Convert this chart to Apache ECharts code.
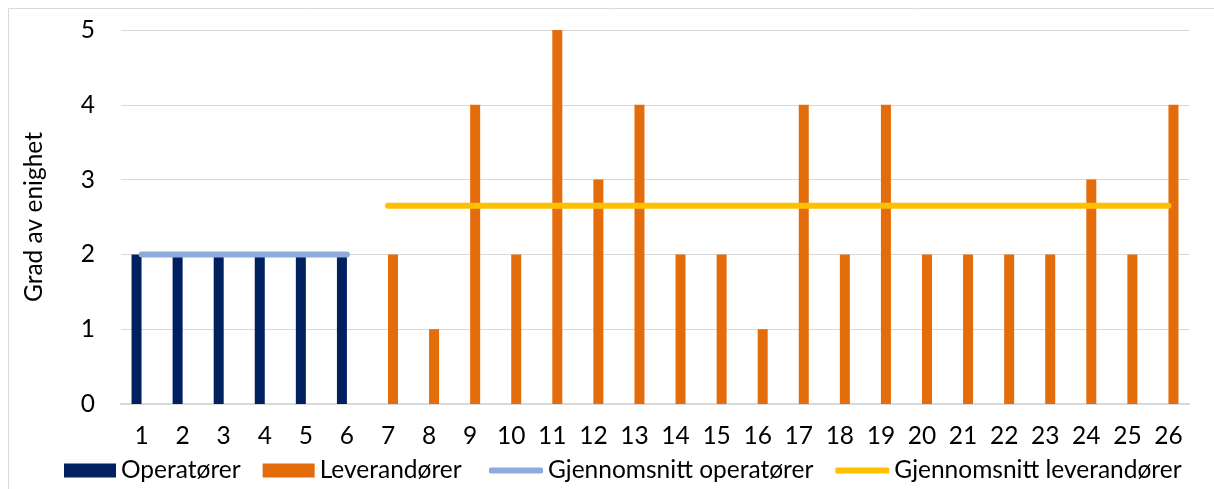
<!DOCTYPE html>
<html><head><meta charset="utf-8">
<script src="https://cdn.jsdelivr.net/npm/echarts@6/dist/echarts.min.js"></script>
<style>html,body{margin:0;padding:0;background:#fff}#c{width:1214px;height:489px}</style>
</head><body><div id="c"></div>
<script>
const categories = ['1','2','3','4','5','6','7','8','9','10','11','12','13','14','15','16','17','18','19','20','21','22','23','24','25','26'];
const operatorer = [2,2,2,2,2,2,null,null,null,null,null,null,null,null,null,null,null,null,null,null,null,null,null,null,null,null];
const leverandorer = [null,null,null,null,null,null,2,1,4,2,5,3,4,2,2,1,4,2,4,2,2,2,2,3,2,4];
const snittOperatorer = [2,2,2,2,2,2,null,null,null,null,null,null,null,null,null,null,null,null,null,null,null,null,null,null,null,null];
const snittLeverandorer = [null,null,null,null,null,null,2.65,2.65,2.65,2.65,2.65,2.65,2.65,2.65,2.65,2.65,2.65,2.65,2.65,2.65,2.65,2.65,2.65,2.65,2.65,2.65];
const yTicks = {min:0, max:5, interval:1};

const FONT = 'Lato';
const FS = 24.5;
const chart = echarts.init(document.getElementById('c'), null, {renderer:'canvas'});
const legendText = {fontFamily:FONT, fontSize:FS, color:'#000'};
chart.setOption({
  animation:false,
  textStyle:{fontFamily:FONT},
  graphic:[{type:'rect', shape:{x:8.5,y:8.5,width:1400,height:700}, style:{fill:'none', stroke:'#D9D9D9', lineWidth:1}, silent:true}],
  grid:{left:121, right:25, top:30, bottom:85, containLabel:false},
  legend:[
    {
      left:64, top:458, itemWidth:52, itemHeight:14, itemGap:22, padding:0,
      textStyle:legendText,
      data:[{name:'Operatører', icon:'rect'},{name:'Leverandører', icon:'rect'}]
    },
    {
      left:489, top:458, itemWidth:54, itemHeight:6, itemGap:22, padding:0,
      textStyle:legendText,
      data:[{name:'Gjennomsnitt operatører', icon:'roundRect'},{name:'Gjennomsnitt leverandører', icon:'roundRect'}]
    }
  ],
  xAxis:{
    type:'category', data:categories,
    axisLine:{show:true, lineStyle:{color:'#D9D9D9', width:2}},
    axisTick:{show:false},
    axisLabel:{fontFamily:FONT, fontSize:FS, color:'#000', margin:20},
    splitLine:{show:false}
  },
  yAxis:{
    type:'value', min:yTicks.min, max:yTicks.max, interval:yTicks.interval,
    name:'Grad av enighet', nameLocation:'middle', nameGap:74, nameRotate:90,
    nameTextStyle:{fontFamily:FONT, fontSize:FS, color:'#000'},
    axisLine:{show:false}, axisTick:{show:false},
    axisLabel:{fontFamily:FONT, fontSize:FS, color:'#000', margin:26},
    splitLine:{lineStyle:{color:'#D9D9D9', width:1}}
  },
  series:[
    {name:'Operatører', type:'bar', data:operatorer, barWidth:10, barGap:'0%', itemStyle:{color:'#002060'}},
    {name:'Leverandører', type:'bar', data:leverandorer, barWidth:10, barGap:'0%', itemStyle:{color:'#E46C0A'}},
    {name:'Gjennomsnitt operatører', type:'line', data:snittOperatorer, symbol:'none', z:5,
      lineStyle:{color:'#8FAADC', width:6, cap:'round'}, itemStyle:{color:'#8FAADC'}},
    {name:'Gjennomsnitt leverandører', type:'line', data:snittLeverandorer, symbol:'none', z:5,
      lineStyle:{color:'#FFC000', width:6, cap:'round'}, itemStyle:{color:'#FFC000'}}
  ]
});
</script></body></html>
